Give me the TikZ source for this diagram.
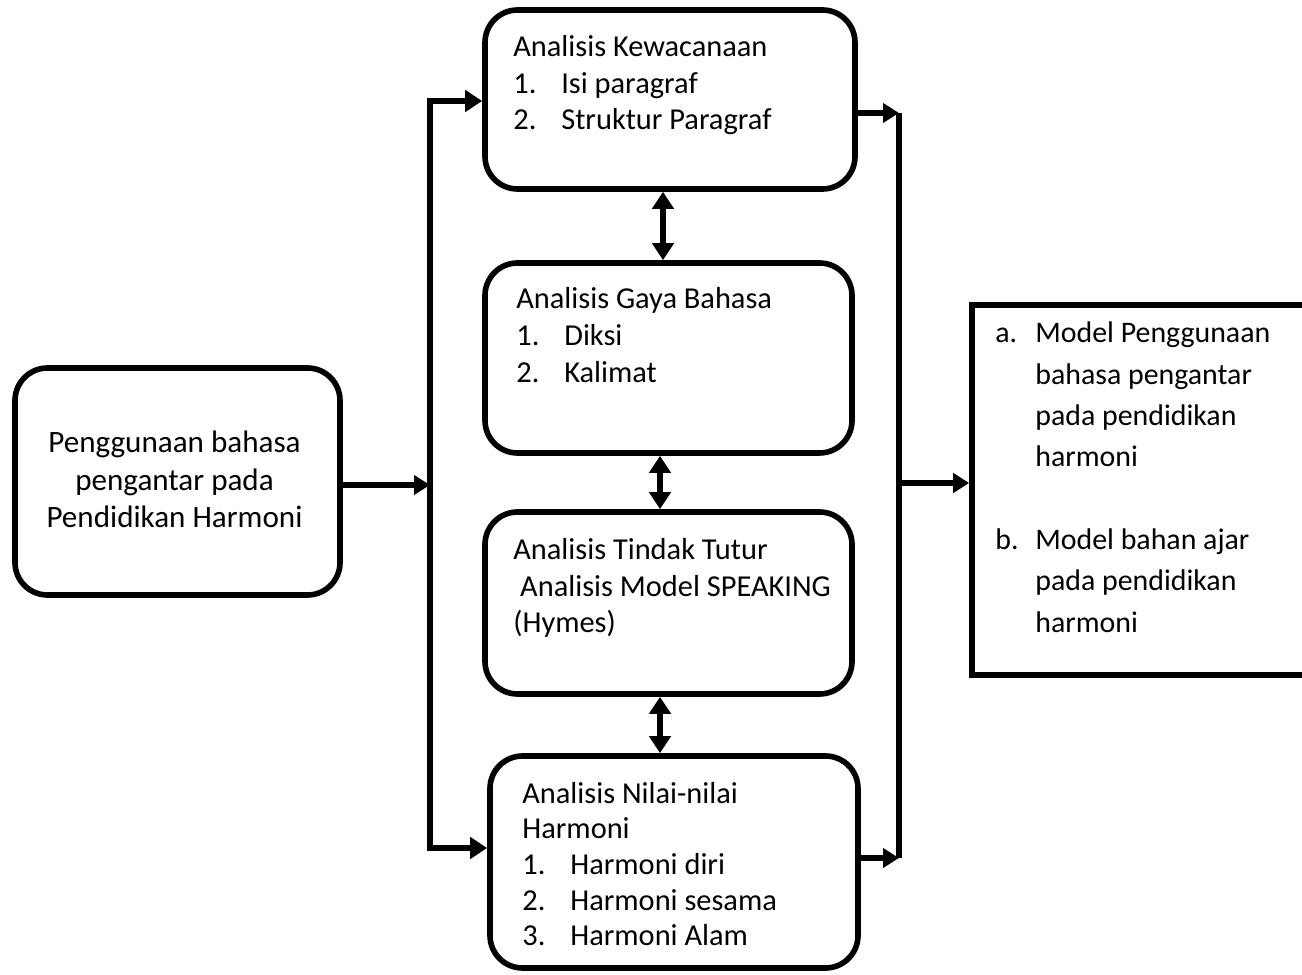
\documentclass[tikz,border=0pt]{standalone}
\usepackage{fontspec}
\setmainfont{Carlito}
\usetikzlibrary{arrows.meta}
\newcommand{\lbl}[2][0.96cm]{\makebox[#1][l]{#2}}

\begin{document}
\begin{tikzpicture}
  \tikzset{box/.style = {draw, line width=3.2pt, rounded corners=0.65cm, inner sep=0pt}}
  \tikzset{outbox/.style = {draw, line width=3.2pt, inner sep=0pt}}
  \tikzset{txt/.style = {inner sep=0pt, anchor=base west}}
  \tikzset{bus/.style = {line width=3.2pt}}
  \tikzset{link/.style = {line width=3.2pt, -{Triangle[length=0.32cm,width=0.38cm]}}}
  \tikzset{both/.style = {line width=3.2pt, {Triangle[length=0.34cm,width=0.42cm]}-{Triangle[length=0.34cm,width=0.42cm]}}}
  \useasboundingbox (0,0) rectangle (26.04,19.48);
  % boxes
  \node[box, minimum width=6.5cm, minimum height=4.54cm] (in) at (3.55,9.85) {};
  \node[box, minimum width=7.4cm, minimum height=3.58cm] (k1) at (13.4,17.49) {};
  \node[box, minimum width=7.34cm, minimum height=3.8cm] (k2) at (13.37,12.32) {};
  \node[box, minimum width=7.34cm, minimum height=3.64cm] (k3) at (13.37,7.42) {};
  \node[box, minimum width=7.36cm, minimum height=4.24cm] (k4) at (13.48,2.24) {};
  \node[outbox, minimum width=7.16cm, minimum height=7.4cm] (out) at (23.02,9.68) {};
  % texts
  \node[txt, anchor=base, font=\fontsize{17.7}{21.3}\selectfont] (in-t) at (3.49,10.42)
    {\begin{tabular}[t]{@{}c@{}}Penggunaan bahasa\\pengantar pada\\Pendidikan Harmoni\end{tabular}};
  \node[txt, font=\fontsize{17.3}{20.5}\selectfont] (k1-t) at (10.26,18.34)
    {\begin{tabular}[t]{@{}l@{}}Analisis Kewacanaan\\\lbl{1.}Isi paragraf\\\lbl{2.}Struktur Paragraf\end{tabular}};
  \node[txt, font=\fontsize{17.3}{21}\selectfont] (k2-t) at (10.32,13.3)
    {\begin{tabular}[t]{@{}l@{}}Analisis Gaya Bahasa\\\lbl{1.}Diksi\\\lbl{2.}Kalimat\end{tabular}};
  \node[txt, font=\fontsize{17.3}{20.5}\selectfont] (k3-t) at (10.26,8.28)
    {\begin{tabular}[t]{@{}l@{}}Analisis Tindak Tutur\\\ Analisis Model SPEAKING\\(Hymes)\end{tabular}};
  \node[txt, font=\fontsize{17.3}{20.3}\selectfont] (k4-t) at (10.44,3.42)
    {\begin{tabular}[t]{@{}l@{}}Analisis Nilai-nilai\\Harmoni\\\lbl{1.}Harmoni diri\\\lbl{2.}Harmoni sesama\\\lbl{3.}Harmoni Alam\end{tabular}};
  \node[txt, font=\fontsize{17}{23.5}\selectfont] (out-t) at (19.9,12.62)
    {\begin{tabular}[t]{@{}l@{}}\lbl[0.8cm]{a.}Model Penggunaan\\\lbl[0.8cm]{}bahasa pengantar\\\lbl[0.8cm]{}pada pendidikan\\\lbl[0.8cm]{}harmoni\\ \\
     \lbl[0.8cm]{b.}Model bahan ajar\\\lbl[0.8cm]{}pada pendidikan\\\lbl[0.8cm]{}harmoni\end{tabular}};
  % bus points
  \coordinate (bl-top) at (8.6,17.46);
  \coordinate (bl-mid) at (8.6,9.78);
  \coordinate (bl-bot) at (8.6,2.52);
  \coordinate (br-top) at (17.98,17.22);
  \coordinate (br-mid) at (17.98,9.82);
  \coordinate (br-bot) at (17.98,2.32);
  \coordinate (v1) at (13.26,0);
  \coordinate (v2) at (13.2,0);
  \coordinate (v3) at (13.2,0);
  % arrows
  \draw[link] (in.east |- bl-mid) -- (bl-mid);
  \draw[both] (bl-top -| k1.west) -- (bl-top) -- (bl-bot) -- (bl-bot -| k4.west);
  \draw[bus] (br-top) -- (br-bot);
  \draw[link] (k1.east |- br-top) -- (br-top);
  \draw[link] (k4.east |- br-bot) -- (br-bot);
  \draw[link] (br-mid) -- (out.west |- br-mid);
  \draw[both] (k1.south -| v1) -- (k2.north -| v1);
  \draw[both] (k2.south -| v2) -- (k3.north -| v2);
  \draw[both] (k3.south -| v3) -- (k4.north -| v3);
\end{tikzpicture}
\end{document}
